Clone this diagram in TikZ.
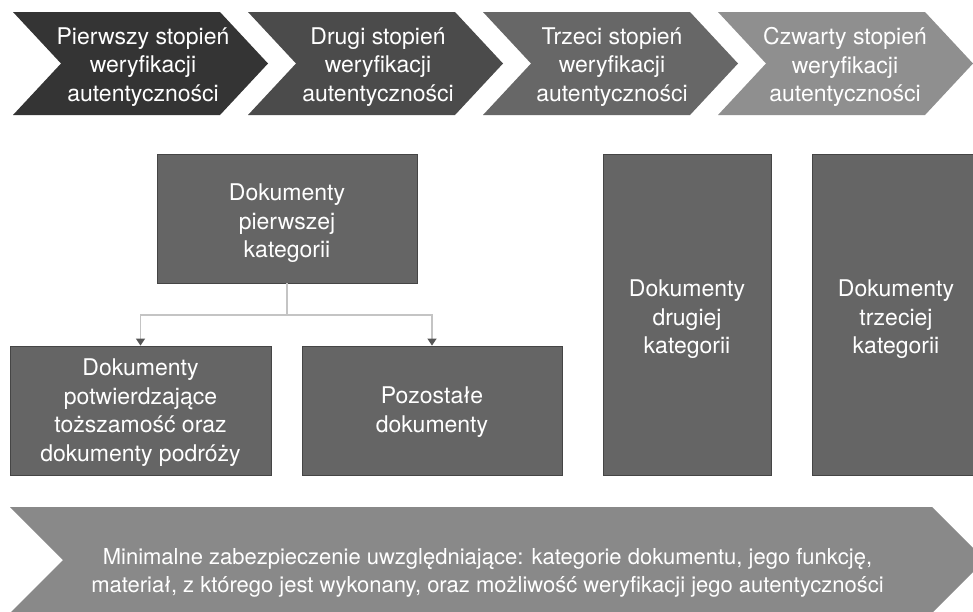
\documentclass[tikz,border=0pt]{standalone}
\usepackage{fontspec}
\setmainfont{TeX Gyre Heros}
\usetikzlibrary{arrows.meta}
\definecolor{cA}{HTML}{343434}
\definecolor{cB}{HTML}{4B4B4B}
\definecolor{cC}{HTML}{676767}
\definecolor{cD}{HTML}{8F8F8F}
\definecolor{boxfill}{HTML}{656565}
\definecolor{boxline}{HTML}{454545}
\definecolor{bottomfill}{HTML}{898989}
\definecolor{connline}{HTML}{C4C4C4}
\definecolor{tipcol}{HTML}{555555}
\newcommand{\tstrut}[1]{\rule{0pt}{#1}}
\tikzset{
  chevtext/.style={text=white, align=center, font=\fontsize{23}{28.7}\selectfont, inner sep=0pt},
  catbox/.style={draw=boxline, line width=0.8pt, fill=boxfill, text=white, align=center,
    font=\fontsize{23}{28.7}\selectfont, inner sep=0pt},
  conn/.style={draw=connline, line width=1.3pt},
  connarrow/.style={conn, -{Triangle[length=7pt,width=9pt,color=tipcol]}},
}
\newcommand{\chevpath}[2]{% left x, fill colour
  \fill[#2] (#1,12) -- ({#1+207},12) -- ({#1+255},63.5) -- ({#1+207},115) -- (#1,115) -- ({#1+48},63.5) -- cycle;}
\begin{document}
\begin{tikzpicture}[x=1pt,y=-1pt]
\clip (0,0) rectangle (973,611);
\fill[white] (0,0) rectangle (973,611);
% top chevrons
\chevpath{13}{cA}
\chevpath{248}{cB}
\chevpath{483}{cC}
\chevpath{718}{cD}
\node[chevtext] (s1) at (143,67) {Pierwszy stopień\\weryfikacji\\autentyczności};
\node[chevtext] (s2) at (378,67) {Drugi stopień\\weryfikacji\\autentyczności};
\node[chevtext] (s3) at (612,67) {Trzeci stopień\\weryfikacji\\autentyczności};
\node[chevtext] (s4) at (845,67) {Czwarty stopień\\weryfikacji\\autentyczności};
% boxes
\node[catbox, minimum width=260pt, minimum height=129pt] (k1) at (287,218.5) {\tstrut{26pt}Dokumenty\\pierwszej\\kategorii};
\node[catbox, minimum width=261pt, minimum height=129pt] (d1) at (140.5,410.5) {\tstrut{21pt}Dokumenty\\potwierdzające\\toższamość oraz\\dokumenty podróży};
\node[catbox, minimum width=260pt, minimum height=129pt] (d2) at (432,410.5) {\tstrut{20pt}Pozostałe\\dokumenty};
\node[catbox, minimum width=168pt, minimum height=321pt] (k2) at (687,314.5) {\tstrut{26pt}Dokumenty\\drugiej\\kategorii};
\node[catbox, minimum width=168pt, minimum height=321pt] (k3) at (896,314.5) {\tstrut{26pt}Dokumenty\\trzeciej\\kategorii};
% connectors
\coordinate (j) at (287,315);
\draw[conn] (k1.south) -- (j);
\draw[connarrow] (j) -| (d1.north);
\draw[connarrow] (j) -| (d2.north);
% bottom arrow
\fill[bottomfill] (10,507) -- (932,507) -- (985,560) -- (932,613) -- (10,613) -- (63,560) -- cycle;
\node[text=white, align=center, font=\fontsize{22}{28.5}\selectfont, inner sep=0pt] (note) at (487.5,573)
  {Minimalne zabezpieczenie uwzględniające: kategorie dokumentu, jego funkcję,\\materiał, z którego jest wykonany, oraz możliwość weryfikacji jego autentyczności};
\end{tikzpicture}
\end{document}
